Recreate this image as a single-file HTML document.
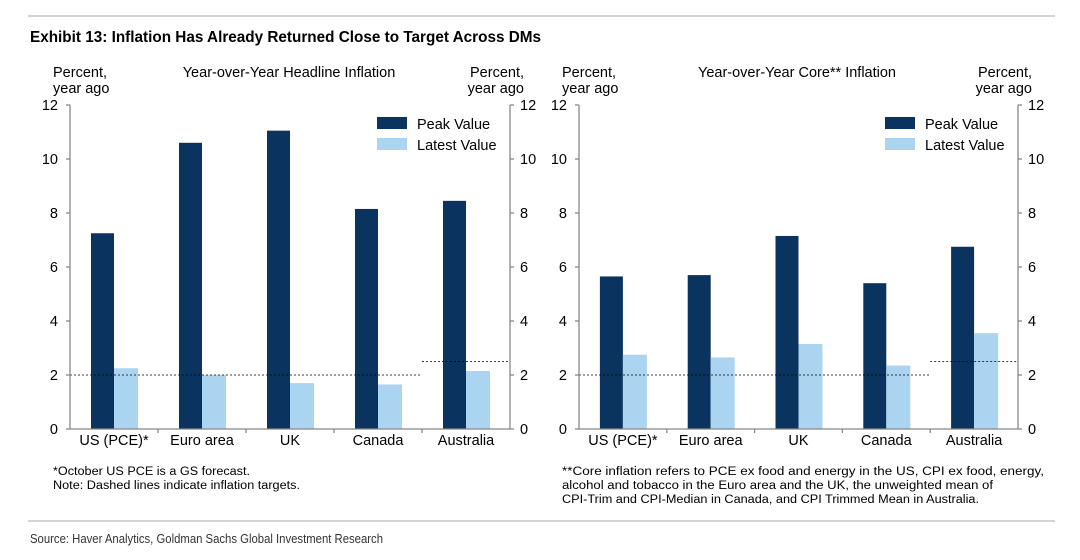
<!DOCTYPE html>
<html><head><meta charset="utf-8">
<style>
body{margin:0;background:#fff;width:1080px;height:555px;overflow:hidden;font-family:"Liberation Sans",Arial,sans-serif;}
svg text{font-family:"Liberation Sans",Arial,sans-serif;}
</style></head>
<body>
<svg id="c" width="1080" height="555">
<line x1="28" y1="16" x2="1055" y2="16" stroke="#aaa" stroke-width="1"/>
<text x="30" y="42" font-size="15.5" font-weight="bold" textLength="511" lengthAdjust="spacingAndGlyphs">Exhibit 13: Inflation Has Already Returned Close to Target Across DMs</text>
<line x1="28" y1="521" x2="1055" y2="521" stroke="#aaa" stroke-width="1"/>
<text x="30" y="543" font-size="12.5" fill="#333" textLength="353" lengthAdjust="spacingAndGlyphs">Source: Haver Analytics, Goldman Sachs Global Investment Research</text>
<g font-size="11.5" fill="#000">
<text x="53" y="475" textLength="197" lengthAdjust="spacingAndGlyphs">*October US PCE is a GS forecast.</text>
<text x="53" y="489" textLength="247" lengthAdjust="spacingAndGlyphs">Note: Dashed lines indicate inflation targets.</text>
<text x="562" y="475" textLength="482" lengthAdjust="spacingAndGlyphs">**Core inflation refers to PCE ex food and energy in the US, CPI ex food, energy,</text>
<text x="562" y="489" textLength="431" lengthAdjust="spacingAndGlyphs">alcohol and tobacco in the Euro area and the UK, the unweighted mean of</text>
<text x="562" y="503" textLength="417" lengthAdjust="spacingAndGlyphs">CPI-Trim and CPI-Median in Canada, and CPI Trimmed Mean in Australia.</text>
</g>
</svg>
<script>
const categories=["US (PCE)*","Euro area","UK","Canada","Australia"];
const headlinePeak=[7.25,10.6,11.05,8.15,8.45];
const headlineLatest=[2.25,2.0,1.7,1.65,2.15];
const corePeak=[5.65,5.7,7.15,5.4,6.75];
const coreLatest=[2.75,2.65,3.15,2.35,3.55];
const yTicks=[0,2,4,6,8,10,12];
const targets=[2,2,2,2,2.5];
const NS="http://www.w3.org/2000/svg";
const svg=document.getElementById('c');
const FS=14.5, AX='#888';
function mk(tag,attrs,parent){const e=document.createElementNS(NS,tag);for(const k in attrs)e.setAttribute(k,attrs[k]);(parent||svg).appendChild(e);return e;}
function panel(x0,x1,title,titleX,peak,latest,pfx){
  const y0=429,yTop=105;
  const y=v=>y0-(v/12)*(y0-yTop);
  const gw=(x1-x0)/categories.length;
  const g=mk('g',{});
  
  
  categories.forEach((c,i)=>{
    const cx=x0+gw*(i+0.5);
    let r=mk('rect',{x:cx-23,y:y(peak[i]),width:23,height:y0-y(peak[i]),fill:'#0b3360'},g);
    
    r=mk('rect',{x:cx,y:y(latest[i]),width:24,height:y0-y(latest[i]),fill:'#abd4f1'},g);
    
    const t=mk('text',{x:cx,y:y0+16,'font-size':FS,'text-anchor':'middle'},g);t.textContent=c;
    
  });
  let s=0;
  for(let i=1;i<=targets.length;i++){
    if(i===targets.length||targets[i]!==targets[s]){
      const d=mk('line',{x1:x0+gw*s,x2:x0+gw*i,y1:y(targets[s]),y2:y(targets[s]),stroke:'#000','stroke-width':0.8,'stroke-dasharray':'2,2'},g);
      
      s=i;
    }
  }
  let l=mk('line',{x1:x0,y1:yTop,x2:x0,y2:y0,stroke:AX,'stroke-width':1.3},g);
  
  l=mk('line',{x1:x1,y1:yTop,x2:x1,y2:y0,stroke:AX,'stroke-width':1.3},g);
  
  l=mk('line',{x1:x0,y1:y0,x2:x1,y2:y0,stroke:AX,'stroke-width':1.3},g);
  
  yTicks.forEach(t=>{
    mk('line',{x1:x0-4,x2:x0,y1:y(t),y2:y(t),stroke:AX,'stroke-width':1.3},g);
    mk('line',{x1:x1,x2:x1+4,y1:y(t),y2:y(t),stroke:AX,'stroke-width':1.3},g);
    let a=mk('text',{x:x0-12,y:y(t)+5,'font-size':FS,'text-anchor':'end'},g);a.textContent=t;
    
    a=mk('text',{x:x1+10,y:y(t)+5,'font-size':FS},g);a.textContent=t;
    
  });
  for(let i=1;i<categories.length;i++) mk('line',{x1:x0+gw*i,x2:x0+gw*i,y1:y0,y2:y0+4,stroke:AX,'stroke-width':1.3},g);
  let t=mk('text',{x:x0-17,y:77,'font-size':FS},g);t.textContent='Percent,';
  
  t=mk('text',{x:x0-17,y:93,'font-size':FS},g);t.textContent='year ago';
  t=mk('text',{x:x1+14,y:77,'font-size':FS,'text-anchor':'end'},g);t.textContent='Percent,';
  
  t=mk('text',{x:x1+14,y:93,'font-size':FS,'text-anchor':'end'},g);t.textContent='year ago';
  t=mk('text',{x:titleX,y:77,'font-size':FS,'text-anchor':'middle'},g);t.textContent=title;
  
  const lx=x1-133;
  let r=mk('rect',{x:lx,y:117,width:30,height:12,fill:'#0b3360'},g);
  
  t=mk('text',{x:lx+40,y:129,'font-size':FS},g);t.textContent='Peak Value';
  r=mk('rect',{x:lx,y:138,width:30,height:12,fill:'#abd4f1'},g);
  
  t=mk('text',{x:lx+40,y:150,'font-size':FS},g);t.textContent='Latest Value';
}
panel(70,510,'Year-over-Year Headline Inflation',289,headlinePeak,headlineLatest,'headline');
panel(579,1018,'Year-over-Year Core** Inflation',797,corePeak,coreLatest,'core');
</script>
</body></html>
